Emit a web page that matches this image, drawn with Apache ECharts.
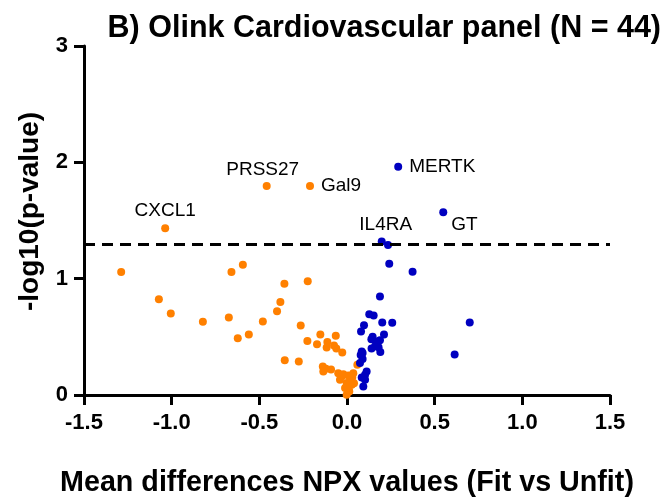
<!DOCTYPE html>
<html>
<head>
<meta charset="utf-8">
<script src="https://cdn.jsdelivr.net/npm/echarts@6/dist/echarts.min.js"></script>
<style>
  html, body { margin: 0; padding: 0; background: #fff; }
  #chart { width: 670px; height: 503px; }
</style>
</head>
<body>
<div id="chart"></div>
<script>
// x: mean NPX difference (Fit vs Unfit), y: -log10(p)
const lowerX = [-1.288, -1.073, -1.005, -0.822, -0.674, -0.659, -0.594, -0.623, -0.56, -0.48,
  -0.357, -0.224, -0.38, -0.399, -0.264, -0.152, -0.064, -0.226, -0.171, -0.112,
  -0.116, -0.074, -0.061, -0.027, -0.355, -0.275, -0.138, -0.091, -0.135, -0.12,
  0.059, -0.05, -0.021, 0.007, 0.036, 0.021, -0.04, -0.002, 0.027, -0.011,
  0.013, -0.002, 0.03, 0.04, -0.03, 0.01];
const lowerY = [1.057, 0.823, 0.70, 0.63, 0.667, 1.057, 1.12, 0.487, 0.521, 0.632,
  0.957, 0.977, 0.80, 0.72, 0.598, 0.521, 0.51, 0.464, 0.436, 0.456,
  0.408, 0.425, 0.40, 0.365, 0.299, 0.288, 0.245, 0.22, 0.203, 0.225,
  0.259, 0.188, 0.179, 0.168, 0.188, 0.131, 0.131, 0.103, 0.088, 0.06,
  0.031, 0.003, 0.15, 0.10, 0.16, 0.05];

const upperX = [0.234, 0.241, 0.374, 0.188, 0.127, 0.152, 0.097, 0.201, 0.258, 0.70,
  0.614, 0.08, 0.211, 0.146, 0.139, 0.17, 0.188, 0.16, 0.18, 0.14,
  0.19, 0.084, 0.089, 0.078, 0.089, 0.074, 0.112, 0.103, 0.084, 0.103,
  0.093];
const upperY = [1.29, 1.128, 1.06, 0.846, 0.695, 0.684, 0.60, 0.624, 0.621, 0.624,
  0.348, 0.546, 0.521, 0.50, 0.48, 0.46, 0.47, 0.42, 0.41, 0.40,
  0.37, 0.375, 0.36, 0.344, 0.31, 0.274, 0.203, 0.174, 0.151, 0.131,
  0.074];

const labelNames = ['CXCL1', 'PRSS27', 'Gal9', 'MERTK', 'GT', 'IL4RA'];
const labelX = [-1.037, -0.458, -0.211, 0.292, 0.549, 0.198];
const labelY = [1.433, 1.797, 1.797, 1.963, 1.57, 1.32];

const xTicks = [-1.5, -1.0, -0.5, 0.0, 0.5, 1.0, 1.5];
const yTicks = [0, 1, 2, 3];
const threshold = 1.3; // p = 0.05

const ORANGE = '#ff8000';
const BLUE = '#0000c0';
const FONT = 'Liberation Sans';

// where each gene name sits next to its point
const labelPlace = {
  CXCL1: { position: 'top', distance: 4, offset: [0, 0] },
  PRSS27: { position: 'top', distance: 3, offset: [-4, 0] },
  Gal9: { position: 'right', distance: 7, offset: [0, 0] },
  MERTK: { position: 'right', distance: 7, offset: [0, 0] },
  GT: { position: 'right', distance: 4, offset: [0, 12] },
  IL4RA: { position: 'top', distance: 3, offset: [4, 0] }
};

const zip = (xs, ys) => xs.map((x, i) => [x, ys[i]]);

const labelled = labelNames.map((name, i) => ({
  name: name,
  value: [labelX[i], labelY[i]],
  itemStyle: { color: labelX[i] < 0 ? ORANGE : BLUE, opacity: 1 },
  label: labelPlace[name]
}));

const chart = echarts.init(document.getElementById('chart'), null, { renderer: 'canvas' });

chart.setOption({
  animation: false,
  backgroundColor: '#fff',
  title: {
    text: 'B) Olink Cardiovascular panel (N = 44)',
    right: 4,
    top: 8,
    textStyle: { fontFamily: FONT, fontSize: 30.5, fontWeight: 'bold', color: '#000' }
  },
  grid: { left: 84, right: 60, top: 46, bottom: 106, containLabel: false },
  xAxis: {
    type: 'value',
    min: xTicks[0],
    max: xTicks[xTicks.length - 1],
    interval: 0.5,
    name: 'Mean differences NPX values (Fit vs Unfit)',
    nameLocation: 'middle',
    nameGap: 74,
    nameTextStyle: { fontFamily: FONT, fontSize: 28.7, fontWeight: 'bold', color: '#000' },
    splitLine: { show: false },
    axisLine: { onZero: false, lineStyle: { color: '#000', width: 3 } },
    axisTick: { show: true, length: 10, lineStyle: { color: '#000', width: 3 } },
    axisLabel: {
      margin: 17,
      fontFamily: FONT, fontSize: 22, fontWeight: 'bold', color: '#000',
      formatter: v => v.toFixed(1)
    }
  },
  yAxis: {
    type: 'value',
    min: yTicks[0],
    max: yTicks[yTicks.length - 1],
    interval: 1,
    name: '-log10(p-value)',
    nameLocation: 'middle',
    nameGap: 40,
    nameTextStyle: {
      fontFamily: FONT, fontSize: 28, fontWeight: 'bold', color: '#000',
      padding: [0, 0, 0, 18]
    },
    splitLine: { show: false },
    axisLine: { show: true, onZero: false, lineStyle: { color: '#000', width: 3 } },
    axisTick: { show: true, length: 10, lineStyle: { color: '#000', width: 3 } },
    axisLabel: {
      margin: 16,
      fontFamily: FONT, fontSize: 22, fontWeight: 'bold', color: '#000'
    }
  },
  series: [
    {
      type: 'scatter',
      data: zip(lowerX, lowerY),
      symbolSize: 8,
      itemStyle: { color: ORANGE, opacity: 1 },
      markLine: {
        silent: true,
        symbol: 'none',
        label: { show: false },
        lineStyle: { color: '#000', width: 3, type: [11, 7] },
        data: [{ yAxis: threshold }]
      }
    },
    {
      type: 'scatter',
      data: zip(upperX, upperY),
      symbolSize: 8,
      itemStyle: { color: BLUE, opacity: 1 }
    },
    {
      type: 'scatter',
      data: labelled,
      symbolSize: 8,
      itemStyle: { opacity: 1 },
      label: {
        show: true,
        formatter: '{b}',
        fontFamily: FONT,
        fontSize: 19,
        color: '#000'
      }
    }
  ]
});
</script>
</body>
</html>
